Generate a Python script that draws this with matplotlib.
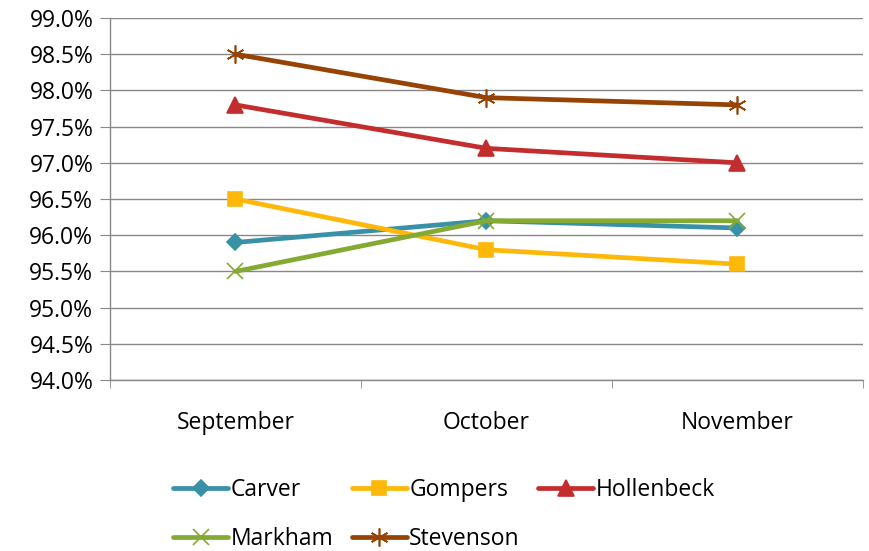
import matplotlib
import matplotlib.pyplot as plt
from matplotlib.ticker import FuncFormatter, MultipleLocator, FixedLocator

matplotlib.use('Agg')

months = ['September', 'October', 'November']
carver = [95.9, 96.2, 96.1]
gompers = [96.5, 95.8, 95.6]
hollenbeck = [97.8, 97.2, 97.0]
markham = [95.5, 96.2, 96.2]
stevenson = [98.5, 97.9, 97.8]

series = [
    ('Carver', carver, '#3891A7', 'D', 8.5),
    ('Gompers', gompers, '#FEB80A', 's', 10.5),
    ('Hollenbeck', hollenbeck, '#C32D2E', '^', 11.5),
    ('Markham', markham, '#84AA33', 'x', 11),
    ('Stevenson', stevenson, '#964305', (6, 2, 0), 13),
]

plt.rcParams['font.family'] = ['Open Sans', 'DejaVu Sans']

fig = plt.figure(figsize=(8.69, 5.51), dpi=100)
ax = fig.add_axes([0.1266, 0.3103, 0.8664, 0.657])

x = range(len(months))
lines = {}
for name, vals, color, marker, ms in series:
    lines[name], = ax.plot(x, vals, color=color, lw=3.4, marker=marker, markersize=ms,
                           markeredgecolor=color, markerfacecolor=color, markeredgewidth=1.2,
                           label=name, solid_capstyle='round')

ax.set_ylim(94.0, 99.0)
ax.set_xlim(-0.5, 2.5)
ax.yaxis.set_major_locator(MultipleLocator(0.5))
ax.yaxis.set_major_formatter(FuncFormatter(lambda v, p: f'{v:.1f}%'))
ax.set_xticks(list(x))
ax.set_xticklabels(months)
ax.xaxis.set_minor_locator(FixedLocator([-0.5, 0.5, 1.5, 2.5]))
ax.tick_params(axis='x', which='major', length=0, pad=22, labelsize=16.5)
ax.tick_params(axis='x', which='minor', length=6, color='#888888')
ax.tick_params(axis='y', length=7, color='#888888', labelsize=16.5, pad=5)

ax.grid(axis='y', color='#888888', lw=1)
ax.set_axisbelow(True)
for s in ['top', 'right']:
    ax.spines[s].set_visible(False)
for s in ['left', 'bottom']:
    ax.spines[s].set_color('#888888')
    ax.spines[s].set_linewidth(1)

# column-wise fill order so the legend reads row by row
order = ['Carver', 'Markham', 'Gompers', 'Stevenson', 'Hollenbeck']
fig.legend([lines[n] for n in order], order, loc='center', bbox_to_anchor=(0.511, 0.066),
           ncol=3, frameon=False, fontsize=16.5, handlelength=2.4, handletextpad=0.1,
           columnspacing=0.8, labelspacing=1.1, borderpad=0)

plt.savefig('out.png', dpi=100)
plt.close()
